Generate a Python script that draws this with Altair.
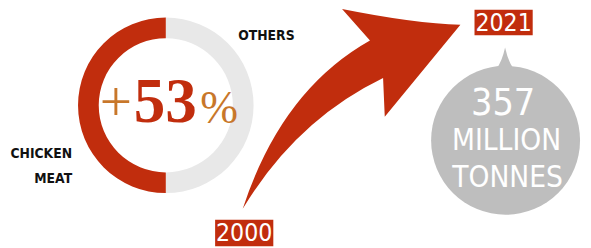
import altair as alt
import pandas as pd

# ---- data ----
categories = ["Others", "Chicken meat"]
shares = [50, 50]
growth_pct = [53]
years = [2000, 2021]
production = [357]
unit_lines = ["MILLION", "TONNES"]
side_labels = ["OTHERS", "CHICKEN", "MEAT"]

RED = "#c12d0d"
ORANGE = "#c8772a"
RING_GREY = "#e8e8e8"
PIN_GREY = "#bebebe"
NARROW = "DejaVu Sans Condensed"

W, H = 583, 240


def px(v):
    # screen pixel -> chart pixel (page margin is 8px)
    return v - 8


# ---- donut ----
donut_df = pd.DataFrame({"category": categories, "share": shares, "ord": [0, 1]})
donut = alt.Chart(donut_df).mark_arc(radius=89, radius2=68).encode(
    theta=alt.Theta("share:Q", stack=True),
    color=alt.Color("category:N", scale=alt.Scale(domain=categories, range=[RING_GREY, RED]), legend=None),
    order=alt.Order("ord:Q"),
    x=alt.value(px(168)),
    y=alt.value(px(105)),
)

g_df = pd.DataFrame({"g": growth_pct})
plus = alt.Chart(g_df).mark_text(text="+", font="Liberation Serif", fontSize=58, color=ORANGE,
                                 align="center", baseline="alphabetic").encode(
    x=alt.value(px(117.5)), y=alt.value(px(121)))
num = alt.Chart(g_df).mark_text(font="Liberation Serif", fontWeight="bold", fontSize=64, color=RED,
                                align="center", baseline="alphabetic").encode(
    text="g:Q", x=alt.value(px(167.5)), y=alt.value(px(122)))
pct = alt.Chart(g_df).mark_text(text="%", font="Liberation Serif", fontSize=46, color=ORANGE,
                                align="center", baseline="alphabetic").encode(
    x=alt.value(px(222)), y=alt.value(px(123)))

LAB = dict(font=NARROW, fontWeight="bold", fontSize=14, color="#111111", baseline="alphabetic")
lab_df = pd.DataFrame({"t": side_labels})
others = alt.Chart(lab_df).transform_filter(alt.datum.t == "OTHERS").mark_text(
    align="center", **LAB
).encode(text="t:N", x=alt.value(px(270)), y=alt.value(px(39)))
chicken = alt.Chart(lab_df).transform_filter(alt.datum.t == "CHICKEN").mark_text(
    align="right", **LAB
).encode(text="t:N", x=alt.value(px(73)), y=alt.value(px(158.5)))
meat = alt.Chart(lab_df).transform_filter(alt.datum.t == "MEAT").mark_text(
    align="right", **LAB
).encode(text="t:N", x=alt.value(px(73)), y=alt.value(px(184)))

# ---- arrow (shape relative to its anchor, in pixels with size=4) ----
ARROW = ("M -110 100 Q -71 -20 19 -70.7 L -9.3 -102.7 Q 64 -88 110.7 -86.7 "
         "L 34 6.7 L 32.3 -32.7 Q -56 10 -110 100 Z")
y_df = pd.DataFrame({"year": years})
arrow = alt.Chart(y_df).transform_filter(alt.datum.year == years[0]).mark_point(
    shape=ARROW, size=4, filled=True, color=RED, opacity=1, strokeWidth=0
).encode(x=alt.value(px(356)), y=alt.value(px(110)))

# ---- year boxes ----
box0 = alt.Chart(y_df).transform_filter(alt.datum.year == years[0]).mark_rect(color=RED).encode(
    x=alt.value(px(218)), x2=alt.value(px(277)), y=alt.value(px(221)), y2=alt.value(H))
box1 = alt.Chart(y_df).transform_filter(alt.datum.year == years[1]).mark_rect(color=RED).encode(
    x=alt.value(px(481)), x2=alt.value(px(540)), y=alt.value(0), y2=alt.value(px(34)))
YT = dict(font=NARROW, fontSize=25, color="white", align="center", baseline="alphabetic")
yt0 = alt.Chart(y_df).transform_filter(alt.datum.year == years[0]).mark_text(**YT).encode(
    text="year:N", x=alt.value(px(247.5)), y=alt.value(px(243)))
yt1 = alt.Chart(y_df).transform_filter(alt.datum.year == years[1]).mark_text(**YT).encode(
    text="year:N", x=alt.value(px(510.5)), y=alt.value(px(30)))

# ---- grey pin ----
p_df = pd.DataFrame({"v": production})
pin_circle = alt.Chart(p_df).mark_point(shape="circle", size=151 ** 2, filled=True, color=PIN_GREY,
                                        opacity=1, strokeWidth=0).encode(
    x=alt.value(px(512.5)), y=alt.value(px(140.5)))
PIN_TIP = "M -9 -72 Q -3 -80 0 -94 Q 3 -80 9 -72 Z"
pin_tip = alt.Chart(p_df).mark_point(shape=PIN_TIP, size=4, filled=True, color=PIN_GREY,
                                     opacity=1, strokeWidth=0).encode(
    x=alt.value(px(512)), y=alt.value(px(140.5)))
val = alt.Chart(p_df).mark_text(font=NARROW, fontSize=38, color="white", align="center",
                                baseline="alphabetic").encode(
    text="v:Q", x=alt.value(px(510)), y=alt.value(px(115)))
UT = dict(font=NARROW, fontSize=30, color="white", align="center", baseline="alphabetic")
u_df = pd.DataFrame({"u": unit_lines})
u1 = alt.Chart(u_df).transform_filter(alt.datum.u == unit_lines[0]).mark_text(**UT).encode(
    text="u:N", x=alt.value(px(513.5)), y=alt.value(px(150.5)))
u2 = alt.Chart(u_df).transform_filter(alt.datum.u == unit_lines[1]).mark_text(**UT).encode(
    text="u:N", x=alt.value(px(514.5)), y=alt.value(px(188)))

chart = alt.layer(
    donut, plus, num, pct, others, chicken, meat,
    arrow, box0, box1, yt0, yt1,
    pin_circle, pin_tip, val, u1, u2,
).properties(
    width=W, height=H, padding=0, background="white",
    autosize=alt.AutoSizeParams(type="none"),
).configure_view(stroke=None)

chart.save("out.html", embed_options={"renderer": "svg", "actions": False})
